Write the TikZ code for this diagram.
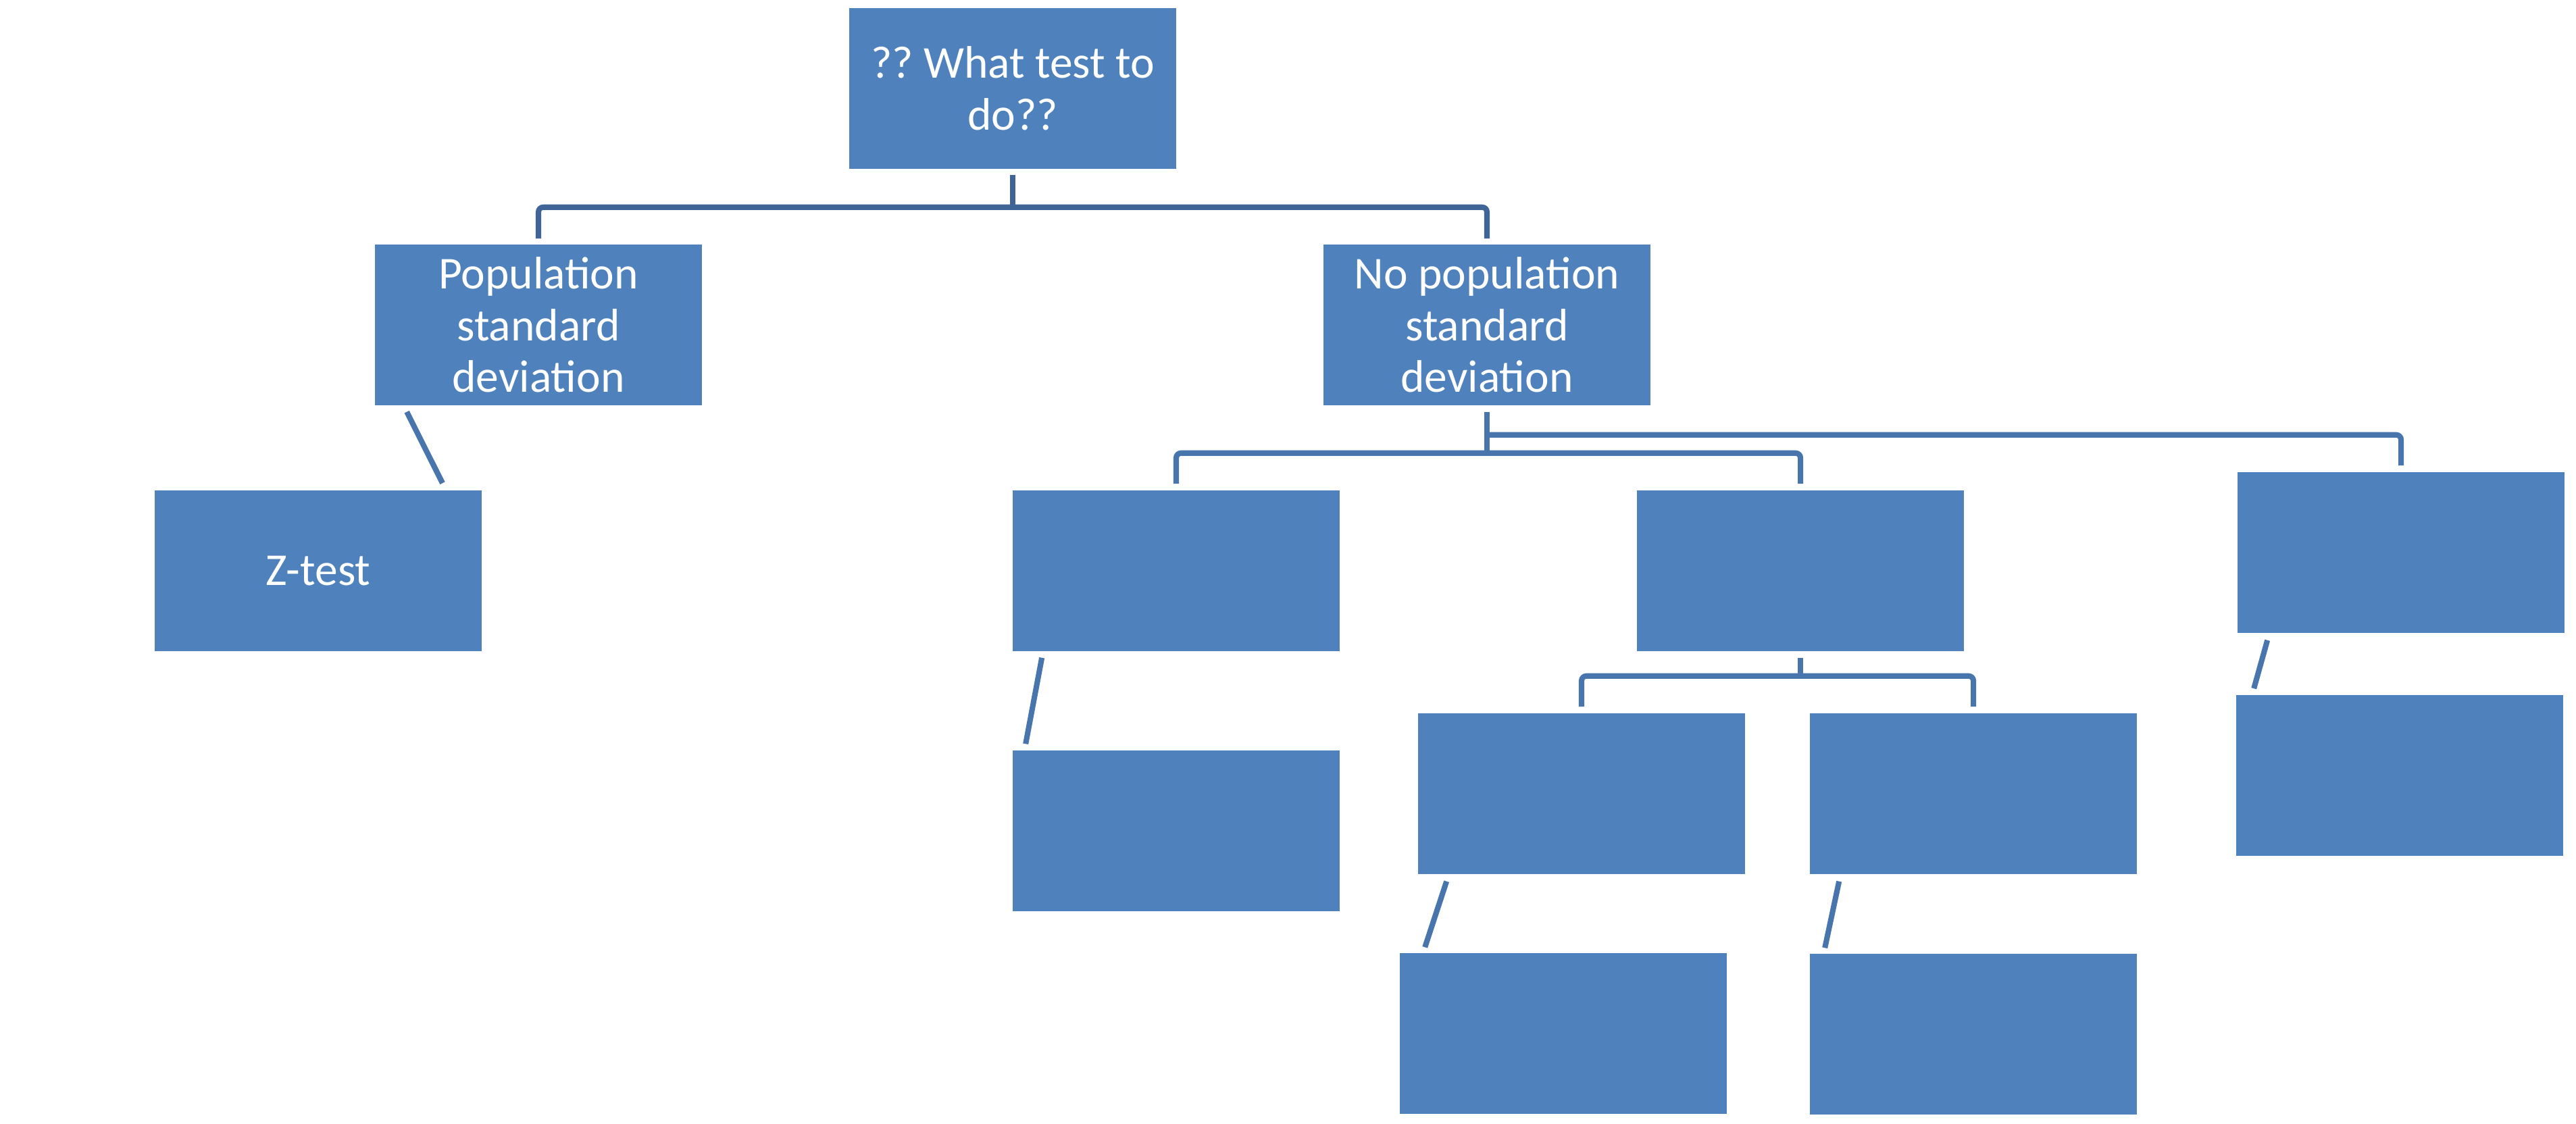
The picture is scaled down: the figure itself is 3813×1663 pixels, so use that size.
\documentclass[tikz,border=0pt]{standalone}
\usepackage{fontspec}
\setmainfont{Carlito}
\usetikzlibrary{calc}
\definecolor{boxBlue}{RGB}{79,129,189}
\definecolor{lineBlue}{RGB}{72,117,172}
\definecolor{rootBlue}{RGB}{63,100,150}
\frenchspacing

\begin{document}
\begin{tikzpicture}[x=0.01cm, y=-0.01cm,
        every node/.style={align=center},
        testBox/.style={
                fill=boxBlue,
                minimum width=4.84cm, minimum height=2.38cm,
                inner sep=0pt, text=white,
                font=\fontsize{19.2}{21.8}\selectfont
            },
        branchLine/.style={draw=lineBlue, line width=2.3pt, rounded corners=2pt},
        rootLine/.style={branchLine, draw=rootBlue}
    ]
    \useasboundingbox (0,0) rectangle (3813,1663);

    % Root and first split
    \node[testBox] (A0) at (1499,131) {?? What test to\\do??};
    \node[testBox] (A1) at (797,481) {Population\\standard\\deviation};
    \node[testBox] (B1) at (2201,481) {No population\\standard\\deviation};

    % Known sigma
    \node[testBox] (A2) at (471,845) {Z-test};

    % Unknown sigma
    \node[testBox] (B2) at (1741,845) {};
    \node[testBox] (C2) at (2665,845) {};
    \node[testBox] (D2) at (3554,818) {};
    \node[testBox] (B3) at (1741,1230) {};
    \node[testBox] (C3) at (2341,1175) {};
    \node[testBox] (E3) at (2921,1175) {};
    \node[testBox] (D3) at (3552,1148) {};
    \node[testBox] (C4) at (2314,1530) {};
    \node[testBox] (E4) at (2921,1531) {};

    % Connectors
    \coordinate (J0) at ($(A0.south)+(0,56)$);
    \draw[rootLine] ($(A0.south)+(0,8)$) -- (J0);
    \draw[rootLine] ($(A1.north)+(0,-8)$) |- (J0) -| ($(B1.north)+(0,-8)$);

    \draw[branchLine] ($(A1.south west)+(48,9)$) -- ($(A2.north)+(184,-10)$);

    \coordinate (J1) at ($(B1.south)+(0,70)$);
    \draw[branchLine] ($(B1.south)+(0,9)$) -- (J1);
    \draw[branchLine] ($(B2.north)+(0,-9)$) |- (J1) -| ($(C2.north)+(0,-9)$);
    \draw[branchLine] ($(B1.south)+(0,43)$) -| ($(D2.north)+(0,-9)$);

    \draw[branchLine] ($(B2.south west)+(44,9)$) -- ($(B3.north west)+(20,-9)$);

    \coordinate (J2) at ($(C2.south)+(0,36)$);
    \draw[branchLine] ($(C2.south)+(0,9)$) -- (J2);
    \draw[branchLine] ($(C3.north)+(0,-9)$) |- (J2) -| ($(E3.north)+(0,-9)$);

    \draw[branchLine] ($(C3.south west)+(43,10)$) -- ($(C4.north west)+(38,-8)$);
    \draw[branchLine] ($(E3.south west)+(44,10)$) -- ($(E4.north west)+(23,-8)$);
    \draw[branchLine] ($(D2.south west)+(45,10)$) -- ($(D3.north west)+(27,-9)$);
\end{tikzpicture}
\end{document}
